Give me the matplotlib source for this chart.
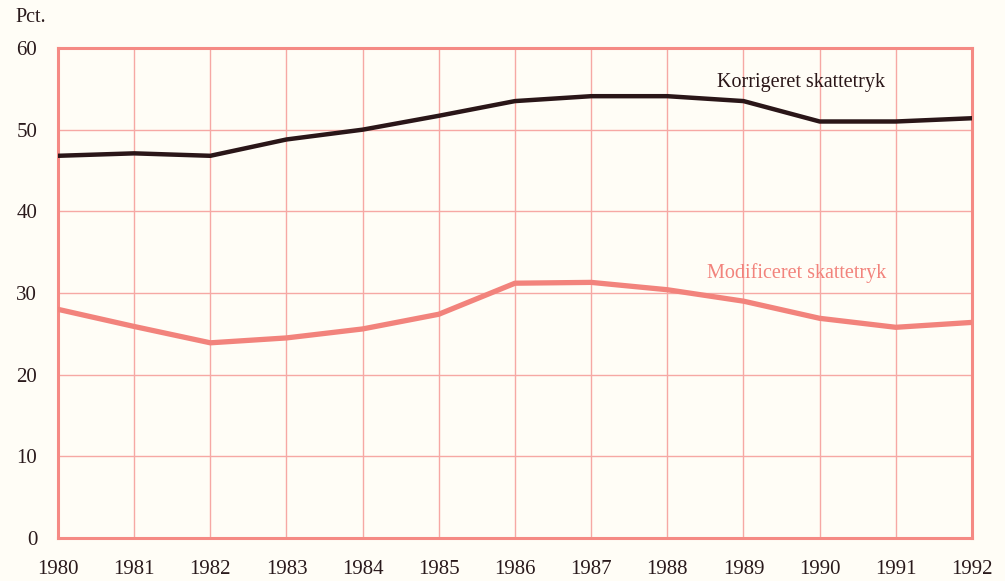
import matplotlib.pyplot as plt

years = [1980, 1981, 1982, 1983, 1984, 1985, 1986, 1987, 1988, 1989, 1990, 1991, 1992]
korrigeret = [46.8, 47.1, 46.8, 48.8, 50.0, 51.7, 53.5, 54.1, 54.1, 53.5, 51.0, 51.0, 51.4]
modificeret = [28.0, 25.9, 23.9, 24.5, 25.6, 27.4, 31.2, 31.3, 30.4, 29.0, 26.9, 25.8, 26.4]
yticks = [0, 10, 20, 30, 40, 50, 60]

bg = '#fffdf6'
gridc = '#f6a8a4'
framec = '#f58a84'
dark = '#2a1618'
pink = '#f2837c'

plt.rcParams['font.family'] = ['Liberation Serif', 'DejaVu Serif']

fig = plt.figure(figsize=(10.05, 5.81), dpi=100, facecolor=bg)
ax = fig.add_axes([58/1005, 1-538/581, (972-58)/1005, (538-48)/581])
ax.set_facecolor(bg)

ax.plot(years, korrigeret, color=dark, lw=3.2, solid_joinstyle='round', solid_capstyle='round', zorder=3)
ax.plot(years, modificeret, color=pink, lw=3.8, solid_joinstyle='round', solid_capstyle='round', zorder=3)

ax.set_xlim(1980, 1992)
ax.set_ylim(0, 60)
ax.set_xticks(years)
ax.set_yticks(yticks)
ax.grid(True, color=gridc, lw=1.0)
for s in ax.spines.values():
    s.set_color(framec)
    s.set_linewidth(2.2)
ax.tick_params(length=0, labelsize=15, colors='#2a1a1c')
ax.tick_params(axis='x', pad=16)
ax.tick_params(axis='y', pad=15)

ax.text(1988.65, 55.8, 'Korrigeret skattetryk', fontsize=14.5, color=dark, va='center', ha='left')
ax.text(1988.52, 32.4, 'Modificeret skattetryk', fontsize=14.5, color=pink, va='center', ha='left')
fig.text(15/1005, 1-18/581, 'Pct.', fontsize=14.5, color='#2a1a1c', va='center', ha='left')

fig.savefig('out.png', dpi=100, facecolor=bg)
